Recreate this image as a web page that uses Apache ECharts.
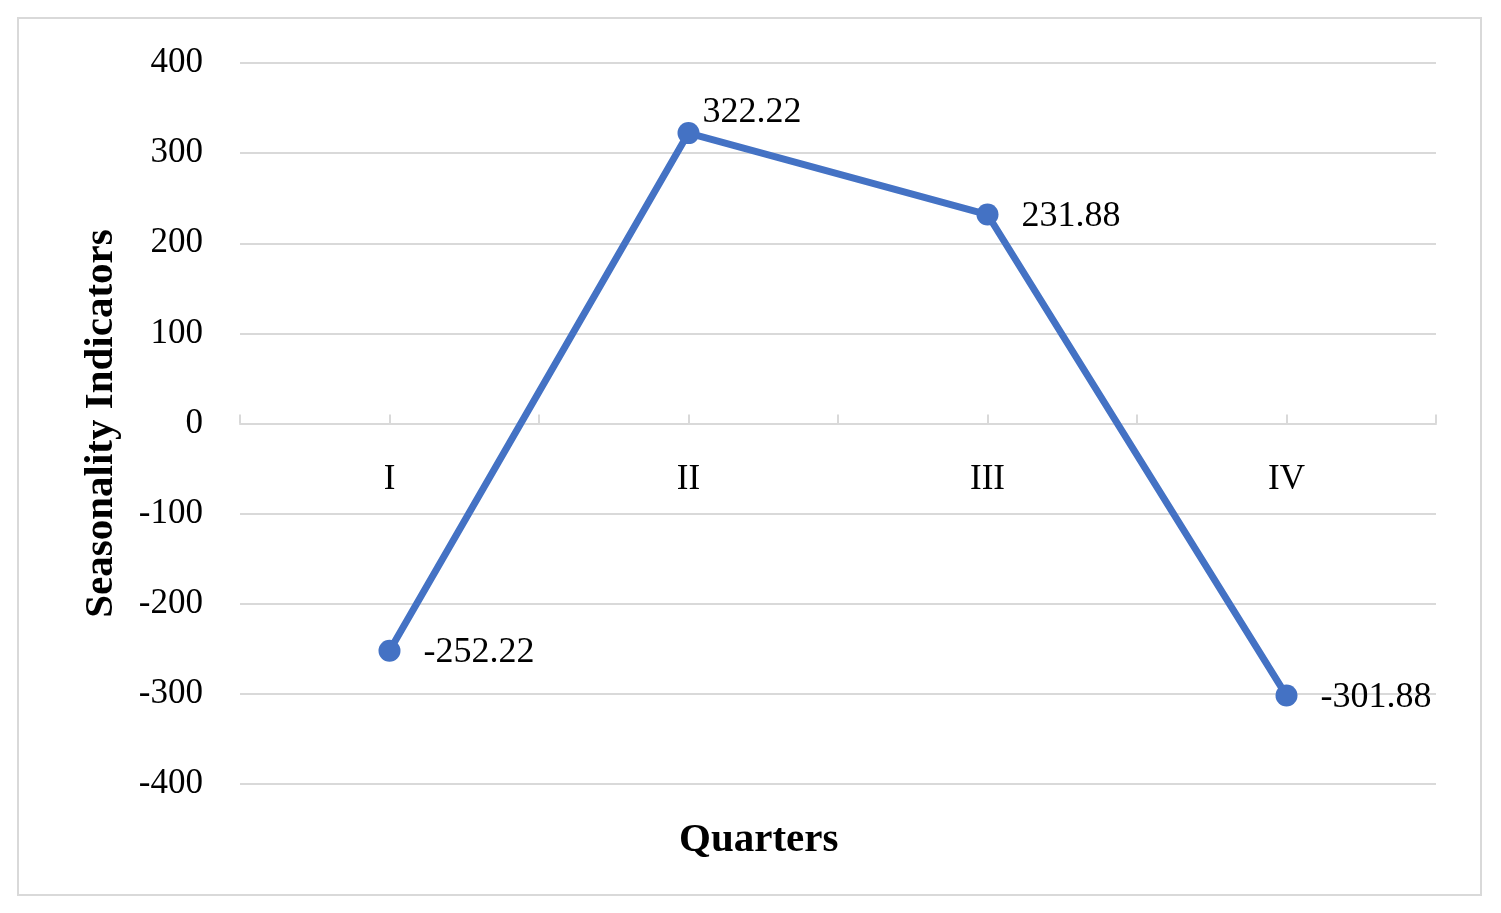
<!DOCTYPE html>
<html>
<head>
<meta charset="utf-8">
<script src="https://cdn.jsdelivr.net/npm/echarts@6/dist/echarts.min.js"></script>
<style>
  html, body { margin: 0; padding: 0; background: #fff; }
  #chart { width: 1501px; height: 913px; }
</style>
</head>
<body>
<div id="chart"></div>
<script>
const quarters = ["I", "II", "III", "IV"];
const seasonality = [-252.22, 322.22, 231.88, -301.88];
const yTicks = [-400, -300, -200, -100, 0, 100, 200, 300, 400];

// half-step categories so ticks fall at every half quarter, as in the original
const cats = [""];
const padded = [null];
quarters.forEach((q, i) => {
  cats.push(q, "");
  padded.push(seasonality[i], null);
});

const font = "'Liberation Serif', 'DejaVu Serif', serif";

const chart = echarts.init(document.getElementById("chart"));
chart.setOption({
  backgroundColor: "#fff",
  animation: false,
  title: {
    text: "Quarters",
    left: 674,
    top: 815,
    textStyle: { fontFamily: font, fontSize: 41, fontWeight: "bold", color: "#000" }
  },
  graphic: [{
    type: "rect",
    shape: { x: 18, y: 18, width: 1463, height: 877 },
    style: { fill: "none", stroke: "#d9d9d9", lineWidth: 2 }
  }],
  grid: { left: 240, right: 65, top: 63, bottom: 129 },
  xAxis: {
    type: "category",
    data: cats,
    boundaryGap: false,
    axisLine: { onZero: true, lineStyle: { color: "#d9d9d9", width: 2 } },
    axisTick: { show: true, inside: true, length: 9, interval: 0, lineStyle: { color: "#d9d9d9", width: 2 } },
    // labels sit under the zero line, not at the grid bottom
    axisLabel: { interval: 0, margin: -322, fontFamily: font, fontSize: 35, color: "#000" },
    splitLine: { show: false }
  },
  yAxis: {
    type: "value",
    min: yTicks[0],
    max: yTicks[yTicks.length - 1],
    interval: 100,
    name: "Seasonality Indicators",
    nameLocation: "middle",
    nameGap: 118,
    nameTextStyle: { fontFamily: font, fontSize: 41, fontWeight: "bold", color: "#000" },
    axisLine: { show: false },
    axisTick: { show: false },
    axisLabel: { margin: 37, fontFamily: font, fontSize: 35, color: "#000", padding: [4, 0, 0, 0] },
    splitLine: { lineStyle: { color: "#d9d9d9", width: 2 } }
  },
  series: [{
    type: "line",
    data: padded.map((v, i) => {
      if (v === null) return "-";
      if (cats[i] === "II") return { value: v, label: { offset: [-20, -21] } };
      return v;
    }),
    connectNulls: true,
    symbol: "circle",
    symbolSize: 22,
    lineStyle: { color: "#4472C4", width: 7 },
    itemStyle: { color: "#4472C4" },
    label: {
      show: true,
      position: "right",
      distance: 23,
      offset: [0, 2],
      fontFamily: font,
      fontSize: 36,
      color: "#000",
      formatter: p => p.value.toFixed(2)
    }
  }]
});
</script>
</body>
</html>
